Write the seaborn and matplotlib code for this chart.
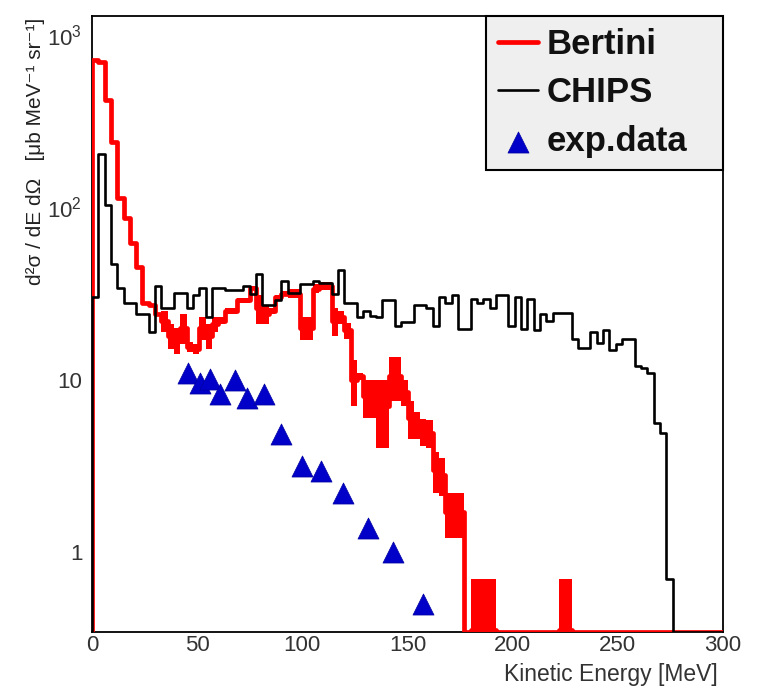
import numpy as np
import pandas as pd
import matplotlib
matplotlib.use('Agg')
import matplotlib.pyplot as plt
import seaborn as sns
from matplotlib.ticker import FixedLocator, FixedFormatter, MultipleLocator, LogLocator, NullFormatter

# ---------------- data ----------------
bin_edges = list(range(0, 303, 3))  # 3 MeV bins, 0..300

chips = [30, 205, 103, 47, 34, 28, 28, 24, 24, 19,
         35, 26, 26, 32, 32, 26, 31, 34, 23, 34,
         34, 33, 33, 33, 35, 31.6, 41, 27, 27, 28.8,
         37.6, 32, 32, 36, 36, 37.6, 36.6, 36.6, 31.6, 43,
         28, 28, 23, 25, 23.5, 23, 28.8, 28.8, 20.6, 21.5,
         21.5, 27, 27, 26, 20.6, 30, 28, 31, 19.8, 19.8,
         29.5, 28, 29.5, 26, 31, 31, 20.6, 30, 19.8, 29.5,
         19.3, 24, 22, 24.5, 24.5, 24.5, 17.3, 15.2, 15.2, 18.8,
         16.4, 19.3, 14.8, 16.2, 17.3, 17.3, 12, 11.7, 11.0, 5.6,
         4.9, 0.7, 0, 0, 0, 0, 0, 0, 0, 0]

bertini = [720, 700, 418, 239, 113, 87, 62, 45, 28, 27,
           24, 22, 18, 17, 20, 15.5, 15, 20, 18, 21,
           22, 25, 25, 28.8, 28.8, 34, 26, 24, 25, 30,
           31.6, 31.6, 31.6, 20, 20, 33.8, 35, 35, 22, 23,
           19.3, 10, 10.5, 8, 8, 7, 7, 10.5, 10.5, 8.5,
           6, 5.5, 5, 4.9, 3, 2.8, 1.7, 1.7, 1.7, 0,
           0.35, 0.35, 0.35, 0.35, 0, 0, 0, 0, 0, 0,
           0, 0, 0, 0, 0.35, 0.35, 0, 0, 0, 0,
           0, 0, 0, 0, 0, 0, 0, 0, 0, 0,
           0, 0, 0, 0, 0, 0, 0, 0, 0, 0]

bertini_err = [0, 0, 0, 0, 0, 0, 0, 0, 0, 0,
               0, 3, 3, 3, 4, 1, 1, 3, 3, 2,
               1, 1, 1, 1, 1, 1, 5, 3, 1, 1,
               1, 2, 2, 3, 3, 2, 2, 2, 4, 2,
               2, 3, 0.5, 2, 2, 3, 3, 3, 3, 1.5,
               1.5, 1, 0.9, 0.9, 0.8, 0.7, 0.5, 0.5, 0.5, 0,
               0.35, 0.35, 0.35, 0.35, 0, 0, 0, 0, 0, 0,
               0, 0, 0, 0, 0.35, 0.35, 0, 0, 0, 0,
               0, 0, 0, 0, 0, 0, 0, 0, 0, 0,
               0, 0, 0, 0, 0, 0, 0, 0, 0, 0]

exp_energy = [45.6, 51.4, 56, 61, 68, 73.6, 82, 90, 99.7, 109, 119.5, 131, 143, 157.5]
exp_xsec = [11, 9.5, 10.1, 8.3, 9.9, 7.86, 8.3, 4.86, 3.16, 2.96, 2.2, 1.38, 1.0, 0.5]

x_ticks = [0, 50, 100, 150, 200, 250, 300]
y_ticks = [1, 10, 100, 1000]
y_tick_labels = ['1', '10', '10$^2$', '10$^3$']

# ---------------- style ----------------
sns.set_theme(style='white')
plt.rcParams['font.family'] = ['Liberation Sans', 'DejaVu Sans']
plt.rcParams['mathtext.default'] = 'regular'

YMIN, YMAX = 0.343, 1290
W, H = 757, 688
fig = plt.figure(figsize=(W / 100, H / 100), dpi=100)
ax = fig.add_axes([92 / W, 1 - 632 / H, (723 - 92) / W, (632 - 16) / H])
ax.set_yscale('log')
ax.set_xlim(0, 300)
ax.set_ylim(YMIN, YMAX)

edges = np.array(bin_edges, dtype=float)


def step_frame(vals):
    v = np.array(vals, dtype=float)
    v = np.where(v > 0, v, YMIN)
    x = np.concatenate([[edges[0]], edges])
    y = np.concatenate([[YMIN], v, [v[-1]]])
    return pd.DataFrame({'E': x, 'v': y})


RED = '#ff0000'
# error blocks of Bertini (one bar per bin, spanning value +- error)
bv = np.array(bertini, dtype=float)
be = np.array(bertini_err, dtype=float)
lo = np.clip(bv - be, YMIN, None)
hi = np.clip(bv + be, YMIN, None)
mask = be > 0
ax.bar(edges[:-1][mask], (hi - lo)[mask], bottom=lo[mask], width=3.0, align='edge',
       color=RED, linewidth=0, zorder=2)

sns.lineplot(data=step_frame(bertini), x='E', y='v', ax=ax, color=RED, lw=3.4,
             drawstyle='steps-post', estimator=None, sort=False, label='Bertini', zorder=3)
sns.lineplot(data=step_frame(chips), x='E', y='v', ax=ax, color='black', lw=1.9,
             drawstyle='steps-post', estimator=None, sort=False, label='CHIPS', zorder=4)
sns.scatterplot(x=exp_energy, y=exp_xsec, ax=ax, marker='^', s=230, color='#0000c8',
                edgecolor='#0000a0', linewidth=0.5, label='exp.data', zorder=5)

# ---------------- axes ----------------
ax.xaxis.set_major_locator(FixedLocator(x_ticks))
ax.xaxis.set_minor_locator(MultipleLocator(10))
ax.yaxis.set_major_locator(FixedLocator(y_ticks))
ax.yaxis.set_major_formatter(FixedFormatter(y_tick_labels))
ax.yaxis.set_minor_locator(LogLocator(base=10, subs=np.arange(2, 10)))
ax.yaxis.set_minor_formatter(NullFormatter())
ax.tick_params(axis='both', which='major', direction='in', length=13, width=1.2,
               labelsize=16, colors='black', labelcolor='#333333', top=False, right=False)
ax.tick_params(axis='both', which='minor', direction='in', length=6.5, width=1.1,
               colors='black', top=False, right=False)
ax.tick_params(axis='x', which='major', pad=2)
ax.tick_params(axis='y', which='major', pad=7)
for s in ax.spines.values():
    s.set_color('black')
    s.set_linewidth(1.3)
ax.set_xlabel('')
ax.set_ylabel('')

fig.text(718 / W, 1 - 674 / H, 'Kinetic Energy [MeV]', ha='right', va='center',
         fontsize=16.5, color='#333333')
fig.text(36 / W, 1 - 18 / H, 'd²σ / dE dΩ   [μb MeV⁻¹ sr⁻¹]', rotation=90,
         ha='center', va='top', fontsize=15, color='#222222')

# ---------------- legend ----------------
x0 = (486 - 92) / (723 - 92)
y0 = (632 - 170) / (632 - 16)
leg = ax.legend(loc='upper right', bbox_to_anchor=(x0, y0, 1 - x0, 1 - y0),
                mode='expand', frameon=True, fancybox=False,
                prop={'weight': 'bold', 'size': 25}, handlelength=1.15,
                handletextpad=0.25, borderpad=0.35, labelspacing=0.44,
                borderaxespad=0.0, markerscale=1.0)
frame = leg.get_frame()
frame.set_facecolor('#efefef')
frame.set_edgecolor('black')
frame.set_linewidth(1.5)
frame.set_alpha(1)
for t in leg.get_texts():
    t.set_color('#111111')

fig.savefig('out.png', dpi=100)
